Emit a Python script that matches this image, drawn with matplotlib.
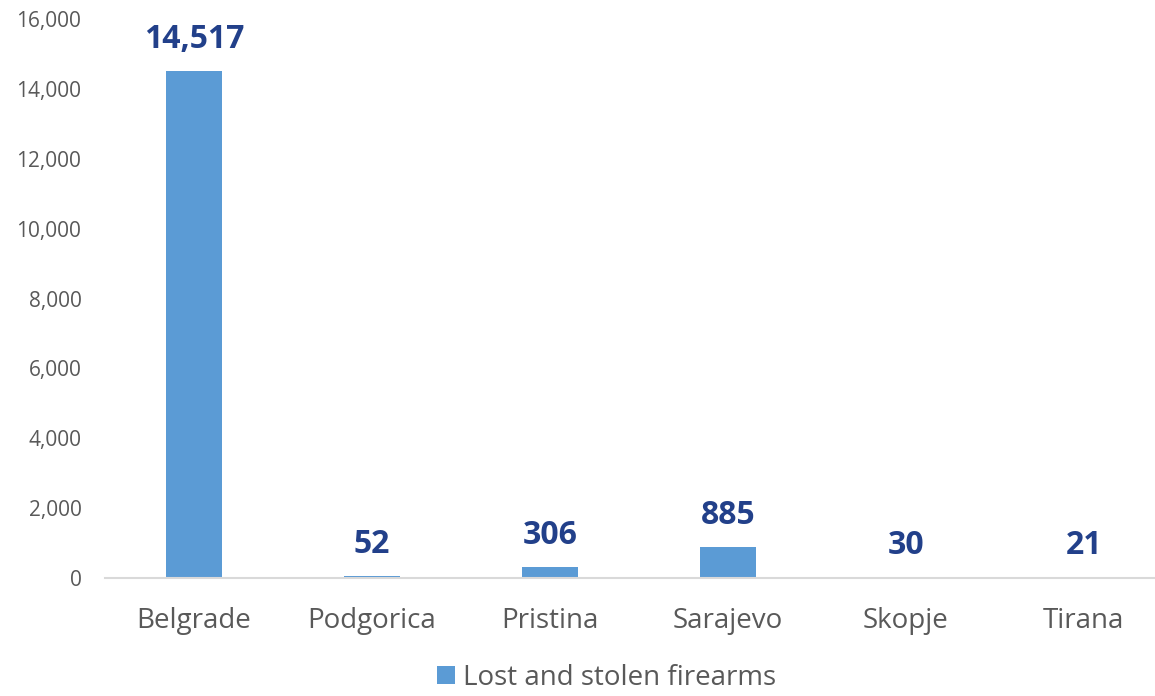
import matplotlib.pyplot as plt
from matplotlib.ticker import FuncFormatter

cities = ["Belgrade", "Podgorica", "Pristina", "Sarajevo", "Skopje", "Tirana"]
firearms = [14517, 52, 306, 885, 30, 21]
series_name = "Lost and stolen firearms"
y_ticks = [0, 2000, 4000, 6000, 8000, 10000, 12000, 14000, 16000]

plt.rcParams['font.family'] = ['Open Sans', 'DejaVu Sans']

fig = plt.figure(figsize=(11.55, 6.96), dpi=100)
ax = fig.add_axes([105 / 1155, 118 / 696, 1050 / 1155, 559 / 696])

x = range(len(cities))
bars = ax.bar(x, firearms, width=0.315, color="#5B9BD5", label=series_name, zorder=2)

for xi, v in zip(x, firearms):
    ax.annotate(f"{v:,}", (xi, v), xytext=(0, 11), textcoords="offset points",
                ha="center", va="bottom", fontsize=23, fontweight="bold", color="#22408A")

ax.set_xlim(-0.5, 5.4)
ax.set_ylim(0, 16000)
ax.set_yticks(y_ticks)
ax.yaxis.set_major_formatter(FuncFormatter(lambda v, p: f"{int(v):,}"))
ax.set_xticks(list(x))
ax.set_xticklabels(cities)

for s in ["top", "right", "left"]:
    ax.spines[s].set_visible(False)
ax.spines["bottom"].set_color("#D9D9D9")
ax.spines["bottom"].set_linewidth(1.5)

ax.tick_params(axis="y", length=0, labelsize=15, labelcolor="#595959", pad=17)
ax.tick_params(axis="x", length=0, labelsize=20, labelcolor="#595959", pad=21)

fig.legend(handles=[bars], labels=[series_name], loc="lower center",
           bbox_to_anchor=(0.525, -0.03), frameon=False, fontsize=20,
           labelcolor="#595959", handlelength=0.65, handleheight=0.65, handletextpad=0.3)

fig.savefig("out.png", dpi=100)
